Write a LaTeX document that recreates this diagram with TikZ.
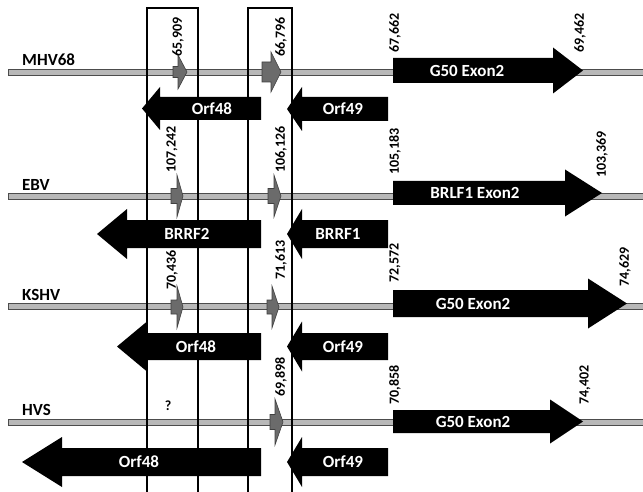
\documentclass[tikz,border=0pt]{standalone}
\usepackage{fontspec}
\setmainfont{Carlito}
\begin{document}
\begin{tikzpicture}[x=1pt,y=-1pt,
  genome/.style={fill=black!28,draw=black!70,line width=0.9pt},
  frame/.style={draw=black,line width=2pt},
  gene/.style={fill=black},
  small/.style={fill=black!58,draw=black!75,line width=0.6pt},
  glabel/.style={text=white,font=\fontsize{17}{17}\selectfont\bfseries,inner sep=0pt},
  rlabel/.style={font=\fontsize{17}{17}\selectfont\bfseries,inner sep=0pt,anchor=base west},
  num/.style={font=\fontsize{14}{14}\selectfont\bfseries,inner sep=0pt,rotate=90,anchor=west}]
\useasboundingbox (0,0) rectangle (643,492);
% right arrow: x0, xh, xt, yc, bh, hh
\newcommand\rarr[7]{\path[#1] (#2,#5-#6) -- (#3,#5-#6) -- (#3,#5-#7) -- (#4,#5) -- (#3,#5+#7) -- (#3,#5+#6) -- (#2,#5+#6) -- cycle;}
% left arrow: tip, xh, x1, yc, bh, hh
\newcommand\larr[7]{\path[#1] (#4,#5-#6) -- (#3,#5-#6) -- (#3,#5-#7) -- (#2,#5) -- (#3,#5+#7) -- (#3,#5+#6) -- (#4,#5+#6) -- cycle;}
% genome lines
\foreach \y in {72,196,306,422} {\path[genome] (8,\y-3) rectangle (648,\y+3);}
% boxes
\draw[frame] (147,500) -- (147,8) -- (198,8) -- (198,500);
\draw[frame] (248,500) -- (248,8) -- (292,8) -- (292,500);
% big arrows
\rarr{gene}{393}{553}{583}{70.5}{12.5}{23}
\rarr{gene}{393}{565}{602}{193}{12}{23.5}
\rarr{gene}{393}{588}{627}{303.5}{13.5}{25}
\rarr{gene}{393}{550}{583}{421.5}{11.5}{22}
\larr{gene}{142}{160}{261}{108.5}{11.5}{21.5}
\larr{gene}{287}{302}{388}{109}{12}{22}
\larr{gene}{97}{127}{261}{234}{14}{25}
\larr{gene}{287}{302}{388}{234}{14}{25}
\larr{gene}{117}{147}{261}{346.5}{13.5}{25}
\larr{gene}{287}{302}{388}{346.5}{13.5}{25}
\larr{gene}{22}{62}{261}{462}{14}{25}
\larr{gene}{287}{302}{388}{462}{14}{25}
% small arrows
\rarr{small}{173}{178}{187}{72}{5.5}{17}
\rarr{small}{262}{271}{281}{72}{10}{20}
\rarr{small}{171}{177}{183}{196}{7.5}{21}
\rarr{small}{268}{274}{281}{196}{7.5}{21}
\rarr{small}{171}{177}{183}{307}{7}{21}
\rarr{small}{267}{272}{279}{307}{7}{21}
\rarr{small}{270}{275}{283}{422}{7.5}{23}
% row labels
\node[rlabel] (lmhv) at (22,66) {MHV68};
\node[rlabel] (lebv) at (22,190) {EBV};
\node[rlabel] (lkshv) at (22,300) {KSHV};
\node[rlabel] (lhvs) at (22,415) {HVS};
% gene labels
\node[glabel] (g1) at (467,70.5) {G50 Exon2};
\node[glabel] (g2) at (475,193) {BRLF1 Exon2};
\node[glabel] (g3) at (473,303.5) {G50 Exon2};
\node[glabel] (g4) at (473,421.5) {G50 Exon2};
\node[glabel] (o1) at (212,108.5) {Orf48};
\node[glabel] (o2) at (343,109) {Orf49};
\node[glabel] (o3) at (187,234) {BRRF2};
\node[glabel] (o4) at (338,234) {BRRF1};
\node[glabel] (o5) at (196,346.5) {Orf48};
\node[glabel] (o6) at (343,346.5) {Orf49};
\node[glabel] (o7) at (139,462) {Orf48};
\node[glabel] (o8) at (343,462) {Orf49};
% numbers
\node[num] (n1) at (178,57) {65,909};
\node[num] (n2) at (281,57) {66,796};
\node[num] (n3) at (395,53) {67,662};
\node[num] (n4) at (580,53) {69,462};
\node[num] (n5) at (172,173) {107,242};
\node[num] (n6) at (281,173) {106,126};
\node[num] (n7) at (395,175) {105,183};
\node[num] (n8) at (602,178) {103,369};
\node[num] (n9) at (172,290) {70,436};
\node[num] (n10) at (281,280) {71,613};
\node[num] (n11) at (395,283) {72,572};
\node[num] (n12) at (625,287) {74,629};
\node[num] (n13) at (281,397) {69,898};
\node[num] (n14) at (395,405) {70,858};
\node[num] (n15) at (585,405) {74,402};
\node[font=\fontsize{14}{14}\selectfont\bfseries,inner sep=0pt] (q) at (168,406) {?};
\end{tikzpicture}
\end{document}
